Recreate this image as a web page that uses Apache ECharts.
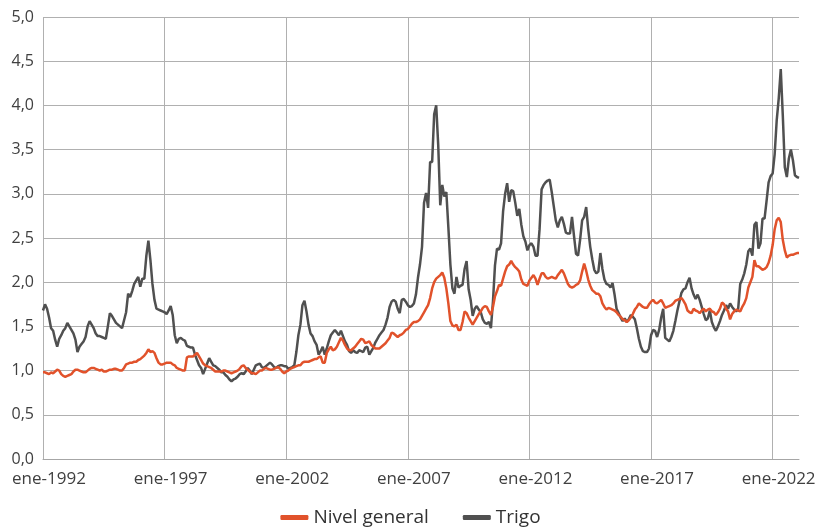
<!DOCTYPE html>
<html>
<head>
<meta charset="utf-8">
<script src="https://cdn.jsdelivr.net/npm/echarts@6/dist/echarts.min.js"></script>
<style>
  html, body { margin: 0; padding: 0; background: #fff; }
  #chart { width: 821px; height: 532px; }
</style>
</head>
<body>
<div id="chart"></div>
<script>
// meses en español, serie mensual ene-1992 .. feb-2023
const monthNames = ['ene', 'feb', 'mar', 'abr', 'may', 'jun', 'jul', 'ago', 'sep', 'oct', 'nov', 'dic'];
const firstYear = 1992;
const pointCount = 374;

const categories = [];
for (let i = 0; i < pointCount; i++) {
  categories.push(monthNames[i % 12] + '-' + (firstYear + Math.floor(i / 12)));
}

// Nivel general (una fila por año)
const nivelGeneral = [
  0.98, 0.98, 0.97, 0.96, 0.98, 0.97, 0.99, 1.01, 1.00, 0.96, 0.94, 0.93,
  0.94, 0.95, 0.96, 0.99, 1.01, 1.01, 1.00, 0.99, 0.98, 0.98, 1.00, 1.02,
  1.03, 1.03, 1.02, 1.01, 1.00, 1.01, 0.99, 0.99, 1.00, 1.01, 1.01, 1.02,
  1.02, 1.01, 1.00, 1.00, 1.03, 1.07, 1.08, 1.09, 1.09, 1.10, 1.10, 1.12,
  1.13, 1.15, 1.17, 1.20, 1.24, 1.21, 1.22, 1.20, 1.14, 1.09, 1.07, 1.07,
  1.08, 1.09, 1.09, 1.09, 1.07, 1.06, 1.03, 1.02, 1.01, 1.00, 1.00, 1.15,
  1.16, 1.16, 1.16, 1.18, 1.20, 1.16, 1.12, 1.08, 1.06, 1.05, 1.04, 1.03,
  1.01, 0.99, 0.99, 0.99, 0.99, 1.00, 1.00, 0.99, 0.98, 0.97, 0.98, 0.99,
  1.00, 1.02, 1.05, 1.06, 1.03, 1.01, 0.99, 0.97, 0.97, 0.96, 0.98, 1.00,
  1.00, 1.02, 1.03, 1.02, 1.01, 1.01, 1.02, 1.03, 1.04, 1.02, 0.99, 0.97,
  0.99, 1.00, 1.02, 1.03, 1.04, 1.05, 1.06, 1.06, 1.09, 1.10, 1.10, 1.10,
  1.11, 1.12, 1.13, 1.13, 1.15, 1.16, 1.09, 1.09, 1.20, 1.24, 1.27, 1.23,
  1.24, 1.27, 1.32, 1.37, 1.34, 1.29, 1.25, 1.23, 1.23, 1.25, 1.27, 1.30,
  1.33, 1.36, 1.35, 1.31, 1.32, 1.33, 1.29, 1.27, 1.25, 1.25, 1.25, 1.27,
  1.29, 1.31, 1.34, 1.37, 1.43, 1.42, 1.40, 1.38, 1.40, 1.41, 1.43, 1.46,
  1.47, 1.50, 1.53, 1.55, 1.55, 1.56, 1.58, 1.62, 1.66, 1.70, 1.74, 1.82,
  1.93, 2.00, 2.04, 2.06, 2.08, 2.11, 2.05, 1.93, 1.76, 1.56, 1.51, 1.50,
  1.52, 1.46, 1.46, 1.55, 1.67, 1.65, 1.60, 1.56, 1.52, 1.56, 1.60, 1.64,
  1.67, 1.71, 1.73, 1.72, 1.67, 1.63, 1.72, 1.84, 1.90, 1.97, 1.96, 2.04,
  2.12, 2.18, 2.20, 2.24, 2.20, 2.17, 2.15, 2.12, 2.03, 1.98, 1.97, 1.96,
  2.02, 2.05, 2.08, 2.04, 1.97, 2.04, 2.10, 2.10, 2.06, 2.04, 2.05, 2.06,
  2.05, 2.04, 2.08, 2.11, 2.14, 2.10, 2.04, 1.98, 1.95, 1.94, 1.95, 1.97,
  1.98, 2.02, 2.12, 2.21, 2.13, 2.03, 1.96, 1.91, 1.89, 1.87, 1.87, 1.84,
  1.76, 1.72, 1.69, 1.71, 1.70, 1.69, 1.68, 1.66, 1.63, 1.61, 1.58, 1.57,
  1.55, 1.57, 1.60, 1.64, 1.69, 1.72, 1.76, 1.74, 1.72, 1.71, 1.71, 1.75,
  1.78, 1.80, 1.77, 1.76, 1.78, 1.80, 1.76, 1.71, 1.72, 1.73, 1.74, 1.76,
  1.79, 1.80, 1.81, 1.82, 1.79, 1.75, 1.68, 1.66, 1.65, 1.70, 1.68, 1.67,
  1.65, 1.68, 1.70, 1.67, 1.69, 1.70, 1.67, 1.66, 1.63, 1.66, 1.70, 1.77,
  1.75, 1.70, 1.67, 1.58, 1.64, 1.67, 1.69, 1.68, 1.67, 1.72, 1.76, 1.82,
  1.94, 2.00, 2.06, 2.25, 2.18, 2.18, 2.16, 2.14, 2.15, 2.17, 2.22, 2.30,
  2.42, 2.60, 2.70, 2.73, 2.68, 2.48, 2.36, 2.28, 2.30, 2.31, 2.31, 2.32,
  2.33, 2.33
];

// Trigo
const trigo = [
  1.68, 1.75, 1.70, 1.60, 1.48, 1.45, 1.35, 1.27, 1.36, 1.40, 1.45, 1.48,
  1.54, 1.50, 1.46, 1.42, 1.35, 1.21, 1.27, 1.30, 1.33, 1.38, 1.50, 1.56,
  1.52, 1.48, 1.42, 1.39, 1.39, 1.38, 1.37, 1.36, 1.50, 1.65, 1.62, 1.58,
  1.54, 1.52, 1.50, 1.48, 1.57, 1.66, 1.87, 1.83, 1.90, 1.98, 2.02, 2.06,
  1.95, 2.04, 2.04, 2.30, 2.47, 2.25, 1.98, 1.80, 1.70, 1.69, 1.68, 1.67,
  1.66, 1.64, 1.68, 1.73, 1.63, 1.40, 1.31, 1.36, 1.37, 1.35, 1.34, 1.28,
  1.27, 1.26, 1.26, 1.18, 1.12, 1.06, 1.03, 0.96, 1.02, 1.08, 1.14, 1.10,
  1.06, 1.05, 1.03, 1.01, 0.98, 0.98, 0.95, 0.93, 0.90, 0.88, 0.90, 0.91,
  0.93, 0.96, 0.97, 0.96, 0.99, 1.03, 1.00, 0.96, 1.01, 1.06, 1.07, 1.08,
  1.04, 1.03, 1.05, 1.07, 1.09, 1.07, 1.04, 1.03, 1.05, 1.06, 1.06, 1.05,
  1.05, 1.02, 1.03, 1.04, 1.06, 1.21, 1.40, 1.52, 1.74, 1.79, 1.67, 1.52,
  1.42, 1.39, 1.33, 1.29, 1.18, 1.22, 1.27, 1.18, 1.25, 1.33, 1.40, 1.43,
  1.46, 1.43, 1.40, 1.45, 1.39, 1.33, 1.29, 1.22, 1.20, 1.23, 1.21, 1.20,
  1.23, 1.22, 1.21, 1.26, 1.27, 1.18, 1.22, 1.26, 1.32, 1.36, 1.40, 1.43,
  1.46, 1.52, 1.60, 1.72, 1.78, 1.80, 1.78, 1.70, 1.65, 1.80, 1.81, 1.78,
  1.74, 1.72, 1.73, 1.76, 1.86, 2.05, 2.20, 2.40, 2.90, 3.01, 2.84, 3.36,
  3.36, 3.90, 4.00, 3.55, 2.87, 3.10, 2.97, 3.02, 2.62, 2.20, 1.93, 1.87,
  2.06, 1.94, 1.96, 1.97, 2.15, 2.24, 1.92, 1.80, 1.62, 1.70, 1.73, 1.69,
  1.66, 1.58, 1.54, 1.53, 1.55, 1.48, 1.78, 2.19, 2.38, 2.37, 2.44, 2.80,
  3.00, 3.12, 2.91, 3.04, 3.03, 2.90, 2.75, 2.83, 2.65, 2.52, 2.46, 2.36,
  2.42, 2.44, 2.40, 2.30, 2.30, 2.60, 3.05, 3.10, 3.13, 3.15, 3.16, 3.02,
  2.86, 2.70, 2.62, 2.70, 2.74, 2.66, 2.56, 2.55, 2.55, 2.74, 2.52, 2.32,
  2.30, 2.48, 2.70, 2.74, 2.85, 2.60, 2.40, 2.26, 2.14, 2.10, 2.12, 2.33,
  2.15, 2.03, 1.98, 1.97, 1.94, 1.99, 1.86, 1.70, 1.65, 1.60, 1.56, 1.59,
  1.55, 1.58, 1.63, 1.61, 1.58, 1.48, 1.36, 1.27, 1.22, 1.21, 1.21, 1.25,
  1.40, 1.46, 1.45, 1.38, 1.46, 1.60, 1.70, 1.37, 1.35, 1.33, 1.38, 1.45,
  1.56, 1.68, 1.78, 1.88, 1.92, 1.93, 2.00, 2.05, 1.93, 1.86, 1.81, 1.86,
  1.80, 1.72, 1.64, 1.57, 1.59, 1.68, 1.55, 1.49, 1.45, 1.50, 1.56, 1.63,
  1.68, 1.74, 1.70, 1.76, 1.72, 1.69, 1.67, 1.70, 1.98, 2.03, 2.10, 2.20,
  2.35, 2.38, 2.30, 2.65, 2.68, 2.38, 2.44, 2.72, 2.72, 2.92, 3.13, 3.20,
  3.23, 3.45, 3.83, 4.08, 4.41, 3.89, 3.30, 3.19, 3.40, 3.50, 3.38, 3.21,
  3.19, 3.18
];

const yTicks = { min: 0, max: 5, interval: 0.5 };

const chart = echarts.init(document.getElementById('chart'));

chart.setOption({
  animation: false,
  textStyle: { fontFamily: 'Open Sans' },
  grid: { left: 43, right: 22, top: 17, bottom: 73 },
  legend: {
    bottom: 0,
    left: 'center',
    icon: 'roundRect',
    itemWidth: 28,
    itemHeight: 5,
    itemGap: 34,
    textStyle: { fontSize: 19, color: '#333', fontFamily: 'Open Sans' },
    data: ['Nivel general', 'Trigo']
  },
  xAxis: {
    type: 'category',
    data: categories,
    boundaryGap: false,
    axisLine: { lineStyle: { color: '#a6a6a6', width: 1 } },
    axisTick: { show: false, interval: 59 },
    axisLabel: {
      interval: 59,
      color: '#404040',
      fontSize: 17,
      margin: 12,
      padding: [0, 0, 0, 12]
    },
    splitLine: { show: true, interval: 59, lineStyle: { color: '#b0b0b0', width: 1 } }
  },
  yAxis: {
    type: 'value',
    min: yTicks.min,
    max: yTicks.max,
    interval: yTicks.interval,
    axisLine: { show: false },
    axisTick: { show: false },
    axisLabel: {
      color: '#404040',
      fontSize: 16,
      margin: 9,
      formatter: v => v.toFixed(1).replace('.', ',')
    },
    splitLine: { lineStyle: { color: '#b0b0b0', width: 1 } }
  },
  series: [
    {
      name: 'Nivel general',
      type: 'line',
      data: nivelGeneral,
      showSymbol: false,
      lineStyle: { color: '#E1522B', width: 2.5 },
      itemStyle: { color: '#E1522B' },
      z: 3
    },
    {
      name: 'Trigo',
      type: 'line',
      data: trigo,
      showSymbol: false,
      lineStyle: { color: '#505050', width: 2.5 },
      itemStyle: { color: '#505050' },
      z: 2
    }
  ]
});
</script>
</body>
</html>
